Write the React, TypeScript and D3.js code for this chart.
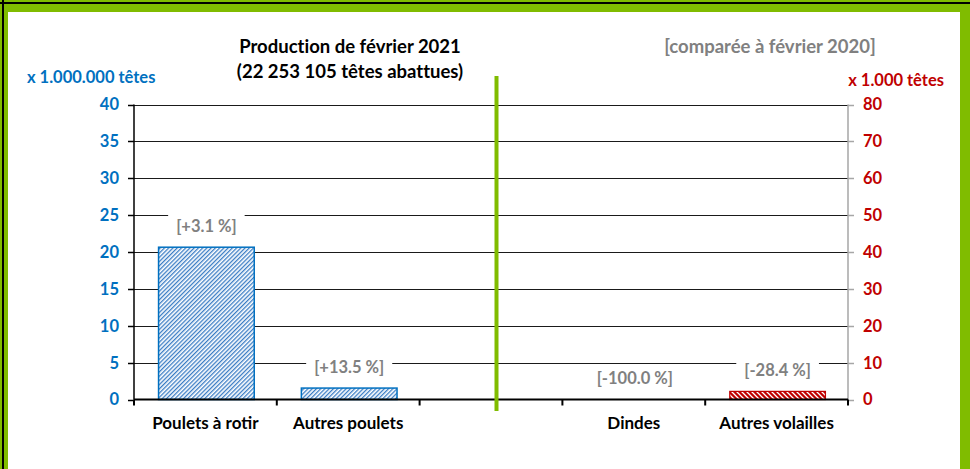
import React, { useEffect, useRef } from 'react'
import * as d3 from 'd3'

// categories on the x axis (the blank slot holds the green divider)
const categories = ['Poulets à rotir', 'Autres poulets', '', 'Dindes', 'Autres volailles']

// left axis series, millions of heads
const leftSeries = [
    { cat: 'Poulets à rotir', value: 20.65, change: '[+3.1 %]' },
    { cat: 'Autres poulets', value: 1.55, change: '[+13.5 %]' },
]

// right axis series, thousands of heads
const rightSeries = [
    { cat: 'Dindes', value: 0, change: '[-100.0 %]' },
    { cat: 'Autres volailles', value: 2.2, change: '[-28.4 %]' },
]

const leftTicks = [0, 5, 10, 15, 20, 25, 30, 35, 40]
const rightTicks = [0, 10, 20, 30, 40, 50, 60, 70, 80]

const W = 970
const H = 469
const FONT = 'Lato, "Open Sans", sans-serif'
const GREEN = '#80BC00'
const BLUE = '#0070C0'
const RED = '#C00000'
const GREY = '#808080'

export default function App() {
    const ref = useRef<SVGSVGElement>(null)

    useEffect(() => {
        const svg = d3.select(ref.current)
        svg.selectAll('*').remove()

        const margin = { left: 134, right: 848, top: 104.5, bottom: 399.5 }

        const x = d3.scaleBand<string>()
            .domain(categories)
            .range([margin.left, margin.right])
            .paddingInner(0.33)
            .paddingOuter(0.165)
        const step = x.step()

        const yL = d3.scaleLinear().domain([0, 40]).range([margin.bottom, margin.top])
        const yR = d3.scaleLinear().domain([0, 80]).range([margin.bottom, margin.top])

        // patterns
        const defs = svg.append('defs')
        const pb = defs.append('pattern')
            .attr('id', 'hatchBlue')
            .attr('patternUnits', 'userSpaceOnUse')
            .attr('width', 3).attr('height', 3)
            .attr('patternTransform', 'rotate(45)')
        pb.append('rect').attr('width', 3).attr('height', 3).attr('fill', '#fff')
        pb.append('rect').attr('width', 1.3).attr('height', 3).attr('fill', '#3A7CC4')

        const pr = defs.append('pattern')
            .attr('id', 'hatchRed')
            .attr('patternUnits', 'userSpaceOnUse')
            .attr('width', 5).attr('height', 5)
        pr.append('rect').attr('width', 5).attr('height', 5).attr('fill', RED)
        pr.append('path')
            .attr('d', 'M-1,-1 l7,7 M-1,4 l2,2 M4,-1 l2,2')
            .attr('stroke', '#fff').attr('stroke-width', 1.3)

        // frame
        svg.append('rect').attr('width', W).attr('height', H).attr('fill', GREEN)
        svg.append('rect').attr('x', 8).attr('y', 12).attr('width', 952).attr('height', H - 12).attr('fill', '#fff')
        svg.append('rect').attr('x', 2).attr('y', 0).attr('width', 2).attr('height', H).attr('fill', '#000')
        svg.append('rect').attr('x', 0).attr('y', 2).attr('width', W).attr('height', 2).attr('fill', '#000')

        // gridlines
        svg.append('g').selectAll('line')
            .data(leftTicks.slice(1))
            .enter().append('line')
            .attr('x1', margin.left).attr('x2', margin.right)
            .attr('y1', d => Math.round(yL(d)) + 0.5).attr('y2', d => Math.round(yL(d)) + 0.5)
            .attr('stroke', '#1a1a1a').attr('stroke-width', 1)

        // left axis
        const gl = svg.append('g')
        gl.append('line')
            .attr('x1', margin.left).attr('x2', margin.left)
            .attr('y1', margin.top).attr('y2', margin.bottom)
            .attr('stroke', '#000').attr('stroke-width', 1.5)
        gl.selectAll('line.tick').data(leftTicks).enter().append('line')
            .attr('class', 'tick')
            .attr('x1', margin.left - 6).attr('x2', margin.left)
            .attr('y1', d => Math.round(yL(d)) + 0.5).attr('y2', d => Math.round(yL(d)) + 0.5)
            .attr('stroke', '#000').attr('stroke-width', 1.5)
        gl.selectAll('text').data(leftTicks).enter().append('text')
            .attr('x', margin.left - 15)
            .attr('y', d => yL(d))
            .attr('dy', '0.36em')
            .attr('text-anchor', 'end')
            .attr('font-family', FONT).attr('font-weight', 'bold').attr('font-size', 16.5)
            .attr('fill', BLUE)
            .text(d => d)

        // right axis
        const gr = svg.append('g')
        gr.append('line')
            .attr('x1', margin.right).attr('x2', margin.right)
            .attr('y1', margin.top).attr('y2', margin.bottom)
            .attr('stroke', '#A6A6A6').attr('stroke-width', 1.5)
        gr.selectAll('line.tick').data(rightTicks).enter().append('line')
            .attr('class', 'tick')
            .attr('x1', margin.right).attr('x2', margin.right + 6)
            .attr('y1', d => Math.round(yR(d)) + 0.5).attr('y2', d => Math.round(yR(d)) + 0.5)
            .attr('stroke', '#A6A6A6').attr('stroke-width', 1.5)
        gr.selectAll('text').data(rightTicks).enter().append('text')
            .attr('x', margin.right + 15)
            .attr('y', d => yR(d))
            .attr('dy', '0.36em')
            .attr('text-anchor', 'start')
            .attr('font-family', FONT).attr('font-weight', 'bold').attr('font-size', 16.5)
            .attr('fill', RED)
            .text(d => d)

        // bars
        const bars = svg.append('g')
        bars.selectAll('rect.left').data(leftSeries).enter().append('rect')
            .attr('class', 'left')
            .attr('x', d => x(d.cat)! + 1)
            .attr('width', x.bandwidth())
            .attr('y', d => yL(d.value))
            .attr('height', d => yL(0) - yL(d.value))
            .attr('fill', 'url(#hatchBlue)')
            .attr('stroke', BLUE).attr('stroke-width', 1.5)
        bars.selectAll('rect.right').data(rightSeries.filter(d => d.value > 0)).enter().append('rect')
            .attr('class', 'right')
            .attr('x', d => x(d.cat)! + 1)
            .attr('width', x.bandwidth())
            .attr('y', d => yR(d.value))
            .attr('height', d => yR(0) - yR(d.value))
            .attr('fill', 'url(#hatchRed)')
            .attr('stroke', RED).attr('stroke-width', 1.2)

        // x axis
        const gx = svg.append('g')
        gx.append('line')
            .attr('x1', margin.left).attr('x2', margin.right)
            .attr('y1', margin.bottom).attr('y2', margin.bottom)
            .attr('stroke', '#000').attr('stroke-width', 2)
        const bounds = d3.range(categories.length + 1).map(i => margin.left + i * step)
        gx.selectAll('line.tick').data(bounds).enter().append('line')
            .attr('class', 'tick')
            .attr('x1', d => d).attr('x2', d => d)
            .attr('y1', margin.bottom).attr('y2', margin.bottom + 6)
            .attr('stroke', '#000').attr('stroke-width', 2)
        gx.selectAll('text').data(categories).enter().append('text')
            .attr('x', d => x(d)! + x.bandwidth() / 2)
            .attr('y', 429)
            .attr('text-anchor', 'middle')
            .attr('font-family', FONT).attr('font-weight', 'bold').attr('font-size', 17)
            .attr('fill', '#000')
            .text(d => d)

        // change labels with white box over gridlines
        const labels = [
            ...leftSeries.map(d => ({ ...d, top: yL(d.value) })),
            ...rightSeries.map(d => ({ ...d, top: yR(d.value) })),
        ]
        const lg = svg.append('g').selectAll('g').data(labels).enter().append('g')
            .attr('transform', d => `translate(${x(d.cat)! + x.bandwidth() / 2 + 1},${d.top - 21})`)
        lg.append('text')
            .attr('text-anchor', 'middle')
            .attr('dy', '0.36em')
            .attr('font-family', FONT).attr('font-weight', 'bold').attr('font-size', 16.5)
            .attr('fill', GREY)
            .text(d => d.change)
        lg.each(function () {
            const g = d3.select(this)
            const t = g.select('text').node() as SVGTextElement
            const w = t.getComputedTextLength() + 16
            g.insert('rect', 'text')
                .attr('x', -w / 2).attr('y', -12.5)
                .attr('width', w).attr('height', 25)
                .attr('fill', '#fff')
        })

        // green divider
        svg.append('rect')
            .attr('x', x('')! + x.bandwidth() / 2 + 3.5)
            .attr('y', 76).attr('width', 4).attr('height', 335)
            .attr('fill', GREEN)

        // titles
        const title = svg.append('text')
            .attr('font-family', FONT).attr('font-weight', 'bold').attr('font-size', 18.5)
            .attr('text-anchor', 'middle').attr('fill', '#000')
            .style('font-variant-ligatures', 'none')
        title.append('tspan').attr('x', 350).attr('y', 53).text('Production de février 2021')
        title.append('tspan').attr('x', 350).attr('y', 78).text('(22 253 105 têtes abattues)')

        svg.append('text')
            .attr('x', 770).attr('y', 53)
            .attr('text-anchor', 'middle')
            .attr('font-family', FONT).attr('font-weight', 'bold').attr('font-size', 18.5)
            .attr('fill', GREY)
            .text('[comparée à février 2020]')

        svg.append('text')
            .attr('x', 27).attr('y', 83)
            .attr('font-family', FONT).attr('font-weight', 'bold').attr('font-size', 16.5)
            .attr('fill', BLUE)
            .text('x 1.000.000 têtes')

        svg.append('text')
            .attr('x', 944).attr('y', 86)
            .attr('text-anchor', 'end')
            .attr('font-family', FONT).attr('font-weight', 'bold').attr('font-size', 16.5)
            .attr('fill', RED)
            .text('x 1.000 têtes')
    }, [])

    return (
        <svg ref={ref} width={W} height={H}
            style={{ position: 'absolute', left: 0, top: 0, display: 'block' }} />
    )
}
